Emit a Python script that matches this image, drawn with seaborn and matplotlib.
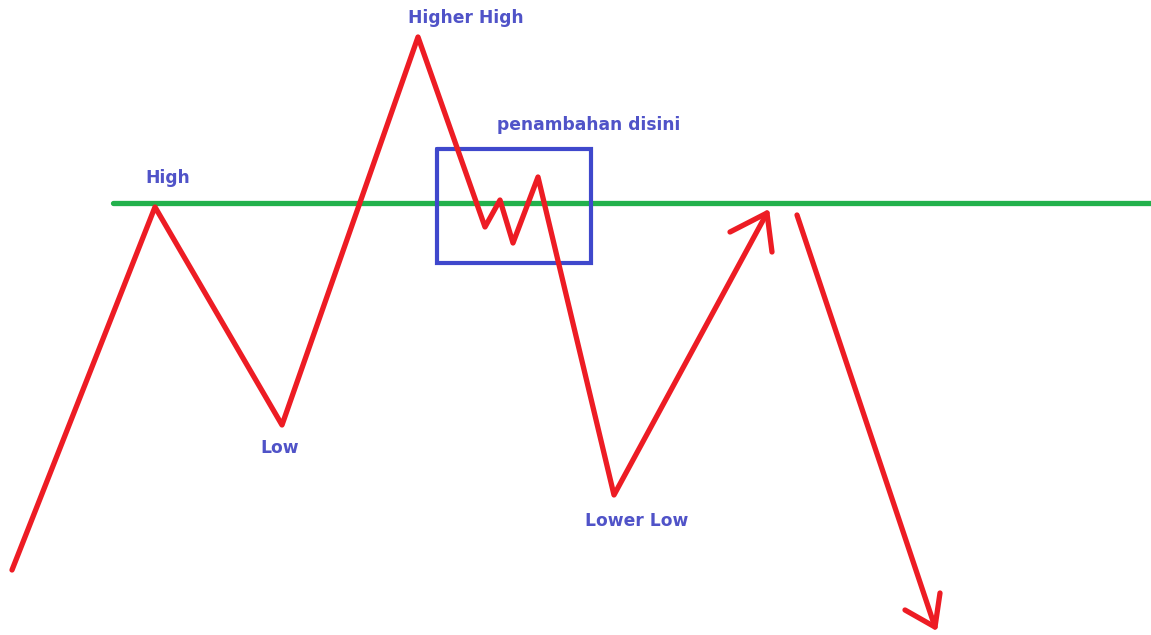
import matplotlib
matplotlib.use("Agg")
import matplotlib.pyplot as plt
import seaborn as sns
import pandas as pd

# Points (pixel coordinates, y grows downward)
trend_x = [12, 155, 282, 418, 485, 500, 513, 538, 614, 767]
trend_y = [570, 207, 425, 37, 227, 200, 243, 177, 495, 213]

# arrowhead of the rising leg
head1_x = [730, 767, 772]
head1_y = [232, 213, 252]

# falling leg and its arrowhead
drop_x = [797, 935]
drop_y = [215, 627]
head2_x = [905, 935, 940]
head2_y = [610, 627, 593]

# resistance level
level_x = [113, 1151]
level_y = [203, 203]

# box around the retest
box_x = [437, 591, 591, 437, 437]
box_y = [149, 149, 263, 263, 149]

labels = ["Higher High", "penambahan disini", "High", "Low", "Lower Low"]
label_x = [466, 589, 168, 280, 637]
label_y = [18, 125, 178, 448, 521]

red = "#ed1c24"
green = "#22b14c"
blue = "#3f48cc"
text_blue = "#5053c8"

sns.set_style("white")

fig = plt.figure(figsize=(11.51, 6.35), dpi=100)
ax = fig.add_axes([0, 0, 1, 1])

line_kw = dict(sort=False, estimator=None, linewidth=3.8,
               solid_capstyle="round", solid_joinstyle="round")

sns.lineplot(x=level_x, y=level_y, color=green, ax=ax, **line_kw)
sns.lineplot(x=box_x, y=box_y, color=blue, ax=ax, sort=False, estimator=None,
             linewidth=3.0, solid_joinstyle="miter")
sns.lineplot(x=trend_x, y=trend_y, color=red, ax=ax, **line_kw)
sns.lineplot(x=head1_x, y=head1_y, color=red, ax=ax, **line_kw)
sns.lineplot(x=drop_x, y=drop_y, color=red, ax=ax, **line_kw)
sns.lineplot(x=head2_x, y=head2_y, color=red, ax=ax, **line_kw)

for txt, x, y in zip(labels, label_x, label_y):
    ax.text(x, y, txt, color=text_blue, fontsize=12.3, fontweight="bold",
            ha="center", va="center", family=["DejaVu Sans"])

ax.set_xlim(0, 1151)
ax.set_ylim(635, 0)
ax.axis("off")

fig.savefig("out.png", dpi=100, facecolor="white")
